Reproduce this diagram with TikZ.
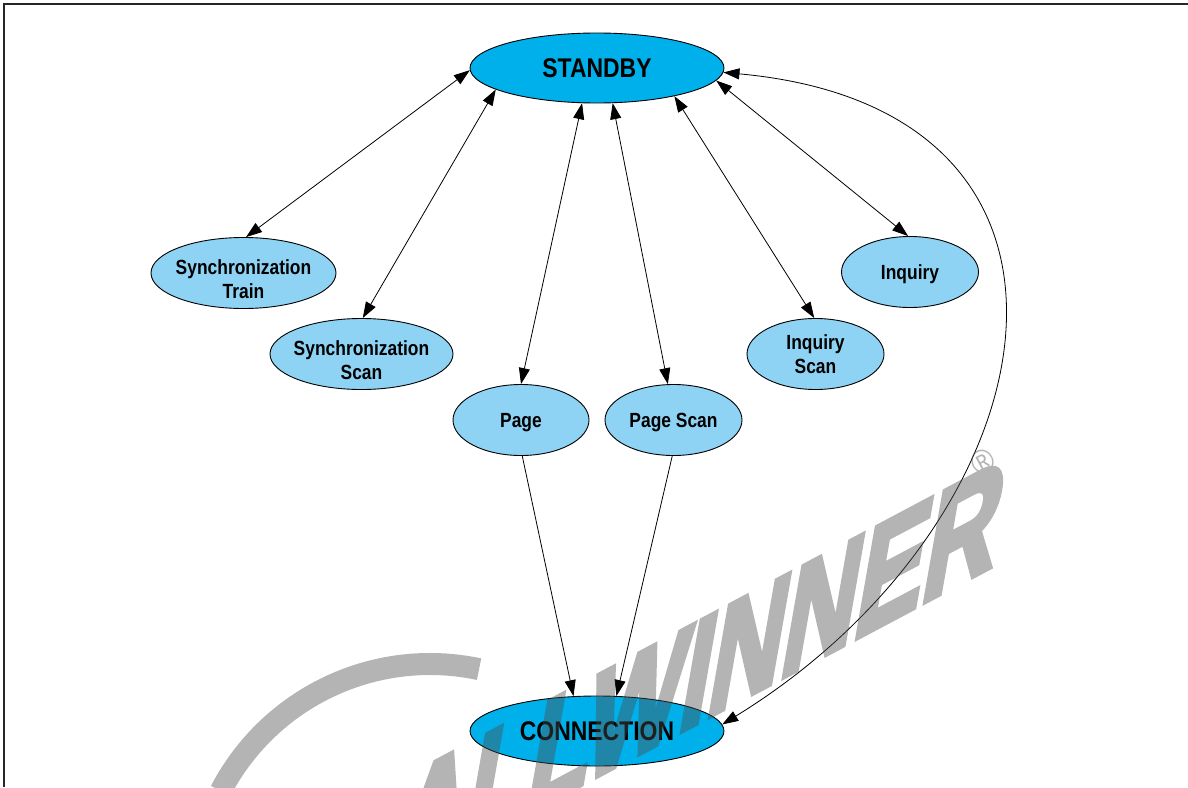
\documentclass[tikz,border=0pt]{standalone}
\usepackage{fontspec}
\usetikzlibrary{shapes.geometric,arrows.meta}
\newfontfamily\lblfont[FakeStretch=0.85]{Liberation Sans}
\newfontfamily\wmfont[FakeStretch=0.9, BoldFeatures={FakeBold=4}]{Liberation Sans}
\definecolor{bigfill}{HTML}{00B0EA}
\definecolor{smallfill}{HTML}{8ED3F4}
\definecolor{wmgray}{gray}{0.3}

\begin{document}
\begin{tikzpicture}[x=1pt,y=-1pt,
  >={Triangle[length=16pt,width=11pt]},
  state/.style={ellipse, draw=black, line width=0.9pt, inner sep=0pt,
    text depth=0pt, align=center, text=black},
  bigstate/.style={state, fill=bigfill, minimum width=254pt, minimum height=70pt,
    font=\lblfont\bfseries\fontsize{27}{32}\selectfont},
  substate/.style={state, fill=smallfill, minimum height=71pt,
    font=\lblfont\bfseries\fontsize{20.5}{23.5}\selectfont},
  sublabel/.style={inner sep=0pt, text depth=0pt, align=center, text=black,
    font=\lblfont\bfseries\fontsize{20.5}{23.5}\selectfont},
  edge/.style={line width=0.8pt, black},
  wmark/.style={wmgray, text=wmgray}]

\useasboundingbox (0,0) rectangle (1188,787);

% frame
\draw[black!85, line width=2.5pt] (4,787) -- (4,4) -- (1188,4);

% states
\node[bigstate] (standby) at (597,68) {STANDBY};
\node[bigstate] (connection) at (597,731) {CONNECTION};

\node[substate, minimum width=185pt] (sytrain) at (243.5,273) {};
\node[sublabel] (sytrainlbl) at (243.5,279) {Synchronization\\Train};
\node[substate, minimum width=183pt] (syscan) at (361.5,354) {};
\node[sublabel] (syscanlbl) at (361.5,360) {Synchronization\\Scan};
\node[substate, minimum width=136pt] (page) at (521,420) {Page};
\node[substate, minimum width=137pt] (pagescan) at (673.5,420) {Page Scan};
\node[substate, minimum width=137pt] (inqscan) at (815.5,354) {Inquiry\\Scan};
\node[substate, minimum width=137pt] (inquiry) at (910,272) {Inquiry};

% transitions
\draw[edge,<->] (standby.181) -- (sytrain.86);
\draw[edge,<->] (standby.192) -- (syscan.88);
\draw[edge,<->] (standby.247) -- (page.90);
\draw[edge,<->] (standby.294) -- (pagescan.99);
\draw[edge,<->] (standby.340) -- (inqscan.92);
\draw[edge,<->] (standby.354) -- (inquiry.93);
\draw[edge,->] (page.272) -- (connection.124);
\draw[edge,->] (pagescan.268) -- (connection.61);
\draw[edge,<->] (standby.358) .. controls (1135,110) and (1055,520) .. (connection.3);

% watermark, drawn as one translucent group
\begin{scope}[transparency group, opacity=0.42]
\coordinate (wmc) at (430,900);
\draw[wmark, line width=22pt] (wmc) ++(207.5:236) arc[start angle=207.5, end angle=282, radius=236];
\node[wmark, inner sep=0pt, rotate=28, xslant=0.78, anchor=base east,
  font=\wmfont\bfseries\fontsize{128}{128}\selectfont] (wmword) at (992,566) {ALLWINNER};
\node[wmark, inner sep=0pt, rotate=28,
  font=\wmfont\fontsize{34}{34}\selectfont] (wmreg) at (983,462) {®};
\end{scope}
\end{tikzpicture}
\end{document}
